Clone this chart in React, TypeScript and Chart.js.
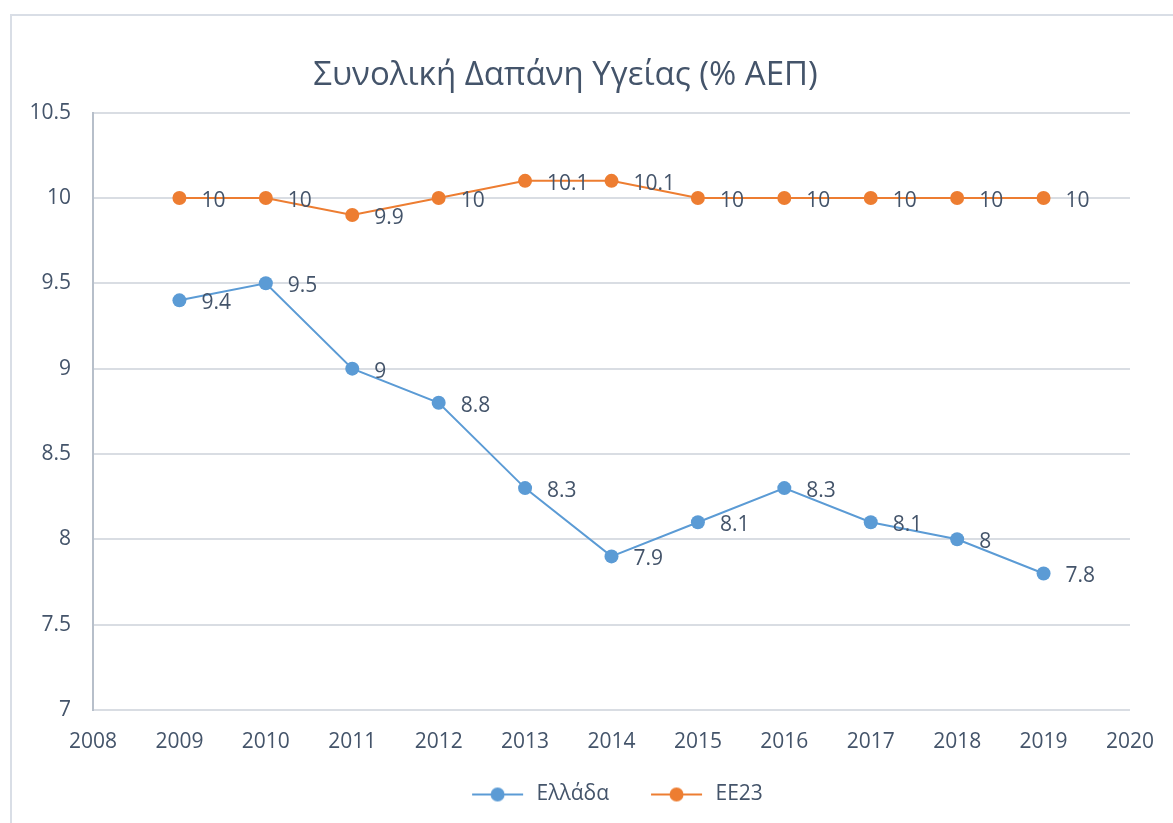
import React, { useEffect, useRef } from "react";
import { Chart, registerables } from "chart.js";

Chart.register(...registerables);

const chartTitle = "Συνολική Δαπάνη Υγείας (% ΑΕΠ)";
const seriesNames = ["Ελλάδα", "ΕΕ23"];
const seriesColors = ["#5B9BD5", "#ED7D31"];
const years = [2009, 2010, 2011, 2012, 2013, 2014, 2015, 2016, 2017, 2018, 2019];
const greeceValues = [9.4, 9.5, 9, 8.8, 8.3, 7.9, 8.1, 8.3, 8.1, 8, 7.8];
const eu23Values = [10, 10, 9.9, 10, 10.1, 10.1, 10, 10, 10, 10, 10];
const xMin = 2008;
const xMax = 2020;
const xStep = 1;
const yMin = 7;
const yMax = 10.5;
const yStep = 0.5;

const TEXT = "#44546A";
const FONT = "'Open Sans', 'DejaVu Sans', sans-serif";

function makeMarker(color: string): HTMLCanvasElement {
  const c = document.createElement("canvas");
  c.width = 66;
  c.height = 16;
  const ctx = c.getContext("2d")!;
  ctx.strokeStyle = color;
  ctx.lineWidth = 2;
  ctx.beginPath();
  ctx.moveTo(12, 8);
  ctx.lineTo(63, 8);
  ctx.stroke();
  ctx.fillStyle = color;
  ctx.beginPath();
  ctx.arc(37.5, 8, 7, 0, Math.PI * 2);
  ctx.fill();
  return c;
}

const framePlugin = {
  id: "frame",
  beforeDraw(chart: any) {
    const ctx = chart.ctx;
    ctx.save();
    ctx.fillStyle = "#FFFFFF";
    ctx.fillRect(0, 0, chart.width, chart.height);
    ctx.strokeStyle = "#D9DEE6";
    ctx.lineWidth = 2;
    ctx.beginPath();
    ctx.moveTo(11, chart.height + 2);
    ctx.lineTo(11, 15);
    ctx.lineTo(chart.width + 2, 15);
    ctx.stroke();
    ctx.restore();
  },
};

const dataLabelPlugin = {
  id: "dataLabels",
  afterDatasetsDraw(chart: any) {
    const ctx = chart.ctx;
    ctx.save();
    ctx.font = `21px ${FONT}`;
    ctx.fillStyle = TEXT;
    ctx.textAlign = "left";
    ctx.textBaseline = "middle";
    chart.data.datasets.forEach((ds: any, i: number) => {
      const meta = chart.getDatasetMeta(i);
      meta.data.forEach((pt: any, j: number) => {
        const v = ds.data[j].y;
        ctx.fillText(String(v), pt.x + 22, pt.y + 3);
      });
    });
    ctx.restore();
  },
};

export default function App() {
  const canvasRef = useRef<HTMLCanvasElement | null>(null);

  useEffect(() => {
    if (!canvasRef.current) return;
    const markers = seriesColors.map(makeMarker);
    const seriesValues = [greeceValues, eu23Values];
    const chart = new Chart(canvasRef.current, {
      type: "line",
      data: {
        datasets: seriesNames.map((name, i) => ({
          label: name,
          data: years.map((x, j) => ({ x, y: seriesValues[i][j] })),
          borderColor: seriesColors[i],
          backgroundColor: seriesColors[i],
          borderWidth: 2,
          pointRadius: 7,
          pointHoverRadius: 7,
          pointBorderWidth: 0,
          pointStyle: "circle",
          tension: 0,
        })),
      },
      options: {
        responsive: false,
        animation: false,
        events: [],
        layout: { padding: { left: 0, right: 42, top: 0, bottom: 8 } },
        plugins: {
          title: {
            display: true,
            text: chartTitle,
            color: TEXT,
            font: { family: FONT, size: 33, weight: "normal" as any, lineHeight: 1.2 },
            padding: { top: 56, bottom: 17 },
          },
          legend: {
            position: "bottom",
            fullSize: false,
            labels: {
              color: TEXT,
              font: { family: FONT, size: 21 },
              usePointStyle: true,
              pointStyleWidth: 66,
              padding: 30,
              generateLabels: (c: any) => {
                const base = (Chart.defaults.plugins.legend.labels as any).generateLabels(c);
                return base.map((l: any, i: number) => ({ ...l, pointStyle: markers[i], fontColor: TEXT }));
              },
            },
          },
          tooltip: { enabled: false },
        },
        scales: {
          x: {
            type: "linear",
            min: xMin,
            max: xMax,
            afterFit: (s: any) => {
              s.height = 44;
            },
            ticks: {
              stepSize: xStep,
              color: TEXT,
              font: { family: FONT, size: 21 },
              padding: 19,
              callback: (v: any) => String(v),
              maxRotation: 0,
            },
            grid: { display: false, drawTicks: false },
            border: { display: true, color: "#D9DDE3", width: 2 },
          },
          y: {
            min: yMin,
            max: yMax,
            afterFit: (s: any) => {
              s.width = 93;
            },
            ticks: {
              stepSize: yStep,
              color: TEXT,
              font: { family: FONT, size: 21 },
              padding: 22,
              callback: (v: any) => String(v),
            },
            grid: { color: "#D9DDE3", lineWidth: 2, drawTicks: false },
            border: { display: true, color: "#B7BFCA", width: 2 },
          },
        },
      },
      plugins: [framePlugin, dataLabelPlugin],
    });
    return () => chart.destroy();
  }, []);

  return (
    <div style={{ position: "absolute", left: 0, top: 0, width: 1173, height: 823 }}>
      <canvas ref={canvasRef} width={1173} height={823} style={{ display: "block" }} />
    </div>
  );
}
